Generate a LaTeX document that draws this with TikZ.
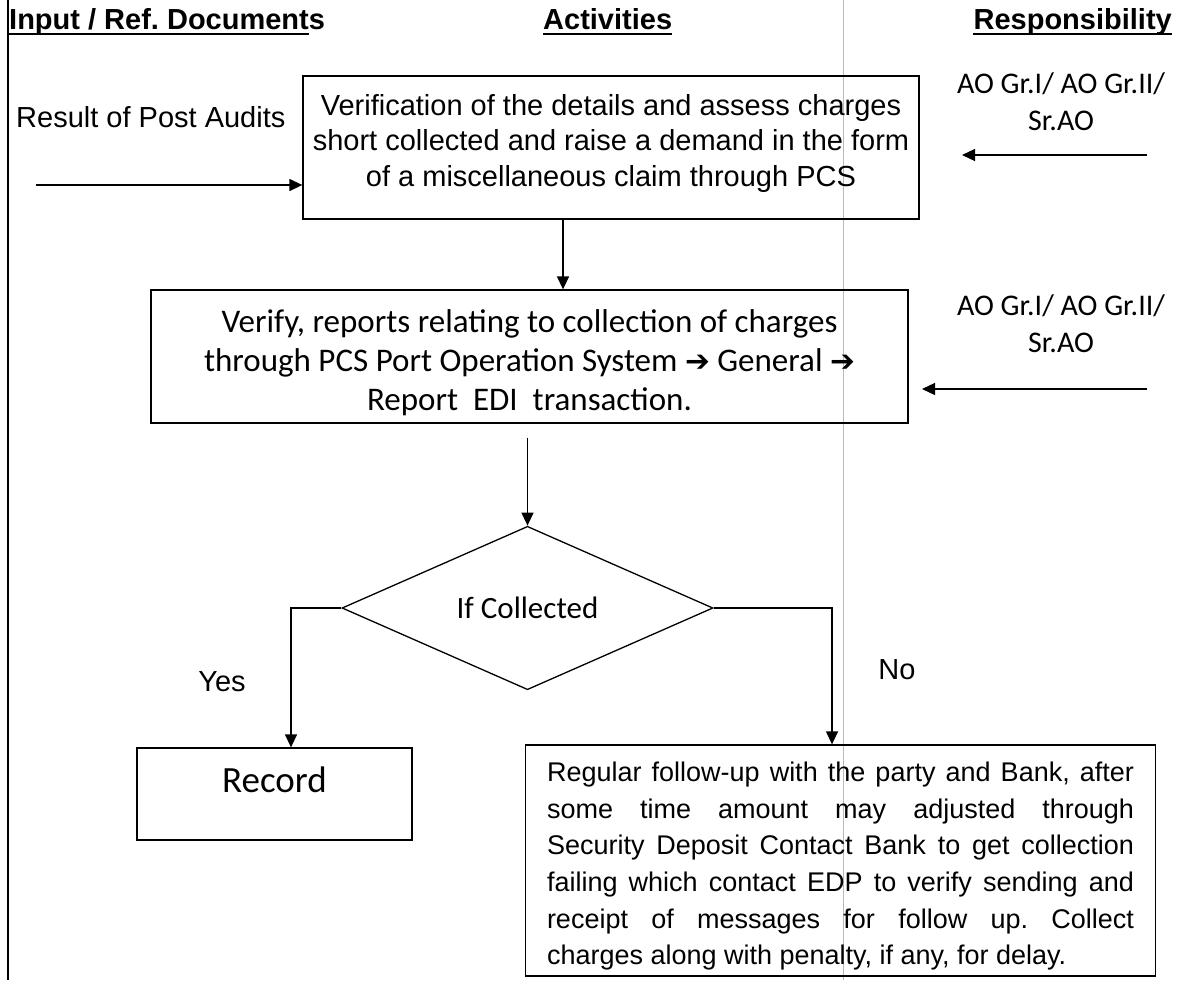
\documentclass[tikz,border=0pt]{standalone}
\usepackage{fontspec}
\setmainfont{Liberation Sans}
\newfontfamily\calibri{Carlito}
\newfontfamily\symfont[Scale=0.9]{DejaVu Sans}
\usetikzlibrary{shapes.geometric,arrows.meta}

\begin{document}
\frenchspacing
\begin{tikzpicture}[
  x=1pt, y=-1pt,
  pbox/.style={rectangle, draw=black, line width=1.3pt, inner sep=0pt},
  dnode/.style={diamond, draw=black, line width=1.3pt, inner sep=0pt, minimum width=371pt, minimum height=144pt},
  flow/.style={line width=1.3pt, draw=black, -{Triangle[length=13pt,width=12pt]}},
  hdr/.style={inner sep=0pt, text depth=5pt, font=\bfseries\fontsize{29}{29}\selectfont},
  txt/.style={inner sep=0pt, font=\fontsize{29}{36}\selectfont},
  resp/.style={inner sep=0pt, align=center, font=\calibri\fontsize{30}{37}\selectfont}
]
  \useasboundingbox (0,0) rectangle (1182,980);

  % Lineas de columna
  \draw[line width=1.5pt] (8,0) -- (8,980);
  \draw[gray!55, line width=0.9pt] (843,0) -- (843,980);

  % Encabezados
  \node[hdr, anchor=base west] (hIn) at (9,29) {Input / Ref. Document\rlap{s}};
  \node[hdr, anchor=base west] (hAct) at (543,29) {Activities};
  \node[hdr, anchor=base east] (hResp) at (1172,29) {Responsibility};
  \foreach \h in {hIn,hAct,hResp}
    \draw[line width=1.6pt] (\h.south west) -- (\h.south east);

  % Primera actividad
  \node[pbox, minimum width=616pt, minimum height=143pt, align=center,
        font=\fontsize{29}{35.5}\selectfont] (box1) at (611,147.5)
    {Verification of the details and assess charges\\
     short collected and raise a demand in the form\\
     of a miscellaneous claim through PCS\rule[-15pt]{0pt}{0pt}};
  \node[txt, anchor=base west] (src) at (16,127) {Result of Post Audits};
  \coordinate (srcIn) at (36,185);
  \draw[flow] (srcIn) -- (srcIn -| box1.west);

  \node[resp] (resp1) at (1061,102) {AO Gr.I/ AO Gr.II/\\Sr.AO};
  \coordinate (r1a) at (1147,155);
  \coordinate (r1b) at (962,155);
  \draw[flow] (r1a) -- (r1b);

  % Segunda actividad
  \node[pbox, minimum width=757pt, minimum height=133pt, align=center,
        font=\calibri\fontsize{33}{39}\selectfont] (box2) at (529.5,356.5)
    {\rule{0pt}{35pt}Verify, reports relating to collection of charges\\
     through PCS Port Operation System {\symfont ➔} General {\symfont ➔}\\
     Report\ \ EDI\ \ transaction.};
  \draw[flow] ([xshift=-48pt]box1.south) -- ([xshift=-48pt]box1.south |- box2.north);

  \node[resp] (resp2) at (1061,324) {AO Gr.I/ AO Gr.II/\\Sr.AO};
  \coordinate (r2a) at (1147,389);
  \coordinate (r2b) at (922,389);
  \draw[flow] (r2a) -- (r2b);

  % Decision
  \node[dnode, font=\calibri\fontsize{31}{31}\selectfont] (dec) at (527.5,608) {If Collected};
  \draw[flow, shorten <=14pt] (box2.south -| dec.north) -- (dec.north);

  % Rama Yes
  \node[pbox, minimum width=275pt, minimum height=92pt, text depth=28pt,
        font=\calibri\fontsize{37}{37}\selectfont] (rec) at (274.5,794) {Record};
  \draw[flow] (dec.west) -| ([xshift=16.5pt]rec.north);
  \node[txt] (yes) at (222,682) {Yes};

  % Rama No
  \node[pbox, text width=587pt, inner xsep=21.5pt, minimum height=231pt, align=justify,
        font=\fontsize{27}{36.7}\selectfont] (box3) at (840.5,860.5)
    {\rule{0pt}{31pt}Regular follow-up with the party and Bank, after\linebreak
     some time amount may adjusted through\linebreak
     Security Deposit Contact Bank to get collection\linebreak
     failing which contact EDP to verify sending and\linebreak
     receipt of messages for follow up. Collect\linebreak
     charges along with penalty, if any, for delay.};
  \draw[flow] (dec.east) -| ([xshift=-8.5pt]box3.north);
  \node[txt] (no) at (897,670) {No};
\end{tikzpicture}
\end{document}
